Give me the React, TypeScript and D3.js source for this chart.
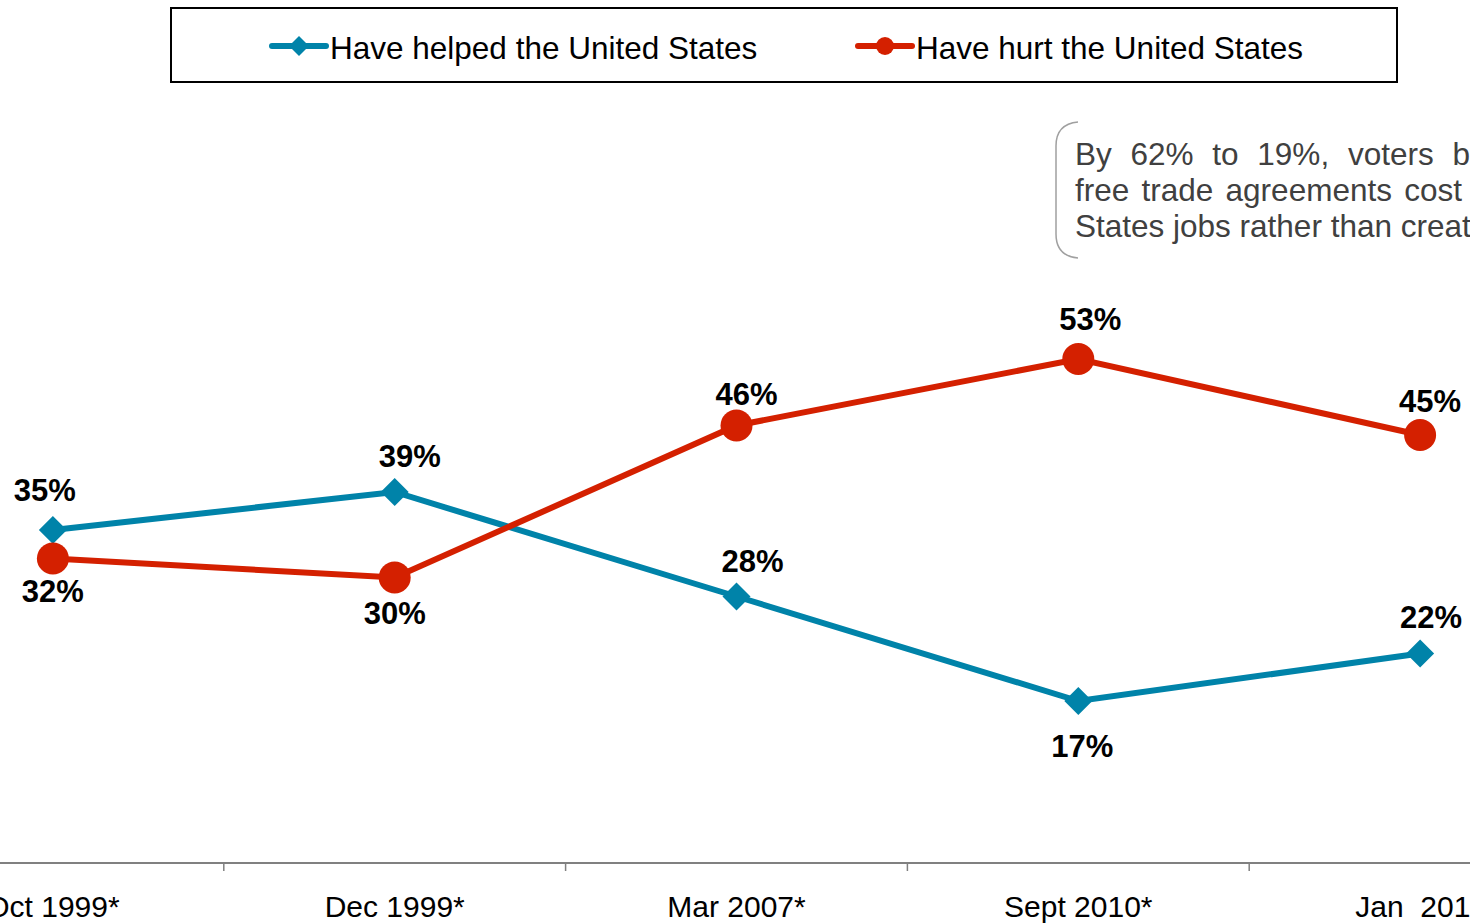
import React from "react";
import * as d3 from "d3";

const categories = ["Oct 1999*", "Dec 1999*", "Mar 2007*", "Sept 2010*", "Jan  2011"];
const helped = [35, 39, 28, 17, 22];
const hurt = [32, 30, 46, 53, 45];
const seriesNames = ["Have helped the United States", "Have hurt the United States"];
const noteLines = [
  "By 62% to 19%, voters believe",
  "free trade agreements cost the United",
  "States jobs rather than create them.",
];

const W = 1470;
const H = 923;
const BLUE = "#0083A9";
const RED = "#D42000";
const FONT = "Arial, 'Liberation Sans', sans-serif";

// label placement offsets (dx, dy) relative to the point
const helpedDx = [-8, 15, 16, 4, 11];
const helpedDy = [-29, -25, -25, 56, -26];
const hurtDx = [0, 0, 10, 12, 10];
const hurtDy = [43, 46, -21, -29, -23];

export default function App() {
  const x = d3.scaleBand<string>().domain(categories).range([-118, 1591]).padding(0);
  const y = d3.scaleLinear().domain([0, 60]).range([862.5, 292.5]);
  const cx = (c: string) => (x(c) as number) + x.bandwidth() / 2;

  const line = d3
    .line<number>()
    .x((_, i) => cx(categories[i]))
    .y((d) => y(d));

  const diamond = (px: number, py: number, r: number) =>
    `M${px},${py - r}L${px + r},${py}L${px},${py + r}L${px - r},${py}Z`;

  const ticks = categories.slice(1).map((c) => x(c) as number);

  return (
    <svg
      width={W}
      height={H}
      style={{ position: "absolute", left: 0, top: 0, overflow: "hidden", background: "#fff" }}
      fontFamily={FONT}
    >
      {/* Legend */}
      <rect x={171} y={8} width={1226} height={74} fill="#fff" stroke="#000" strokeWidth={2} />
      <line x1={272} x2={326} y1={46} y2={46} stroke={BLUE} strokeWidth={6} strokeLinecap="round" />
      <path d={diamond(299, 46, 10)} fill={BLUE} />
      <text x={330} y={59} fontSize={31.5} fill="#000">{seriesNames[0]}</text>
      <line x1={858} x2={912} y1={46} y2={46} stroke={RED} strokeWidth={6} strokeLinecap="round" />
      <circle cx={885} cy={46} r={9} fill={RED} />
      <text x={916} y={59} fontSize={31.5} fill="#000">{seriesNames[1]}</text>

      {/* Annotation */}
      <path
        d="M1078,122 Q1056,124 1056,146 L1056,234 Q1056,256 1078,258"
        fill="none"
        stroke="#a0a0a0"
        strokeWidth={1.5}
      />
      <text x={1075} y={165} fontSize={31.5} fill="#404040" wordSpacing={10}>{noteLines[0]}</text>
      <text x={1075} y={201} fontSize={31.5} fill="#404040" wordSpacing={3.5}>{noteLines[1]}</text>
      <text x={1075} y={237} fontSize={31.5} fill="#404040">{noteLines[2]}</text>

      {/* Axis */}
      <line x1={0} x2={W} y1={863} y2={863} stroke="#808080" strokeWidth={2} />
      {ticks.map((t, i) => (
        <line key={i} x1={t} x2={t} y1={863} y2={871} stroke="#808080" strokeWidth={1.5} />
      ))}
      {categories.map((c) => (
        <text key={c} x={cx(c)} y={917} fontSize={30} textAnchor="middle" fill="#000" style={{ whiteSpace: "pre" }}>
          {c}
        </text>
      ))}

      {/* Lines */}
      <path d={line(helped) || ""} fill="none" stroke={BLUE} strokeWidth={6} />
      <path d={line(hurt) || ""} fill="none" stroke={RED} strokeWidth={6} />

      {helped.map((v, i) => (
        <path key={"hd" + i} d={diamond(cx(categories[i]), y(v), 14)} fill={BLUE} />
      ))}
      {hurt.map((v, i) => (
        <circle key={"hc" + i} cx={cx(categories[i])} cy={y(v)} r={16} fill={RED} />
      ))}

      {helped.map((v, i) => (
        <text
          key={"hl" + i}
          x={cx(categories[i]) + helpedDx[i]}
          y={y(v) + helpedDy[i]}
          fontSize={31}
          fontWeight="bold"
          textAnchor="middle"
          fill="#000"
        >
          {v}%
        </text>
      ))}
      {hurt.map((v, i) => (
        <text
          key={"rl" + i}
          x={cx(categories[i]) + hurtDx[i]}
          y={y(v) + hurtDy[i]}
          fontSize={31}
          fontWeight="bold"
          textAnchor="middle"
          fill="#000"
        >
          {v}%
        </text>
      ))}
    </svg>
  );
}
